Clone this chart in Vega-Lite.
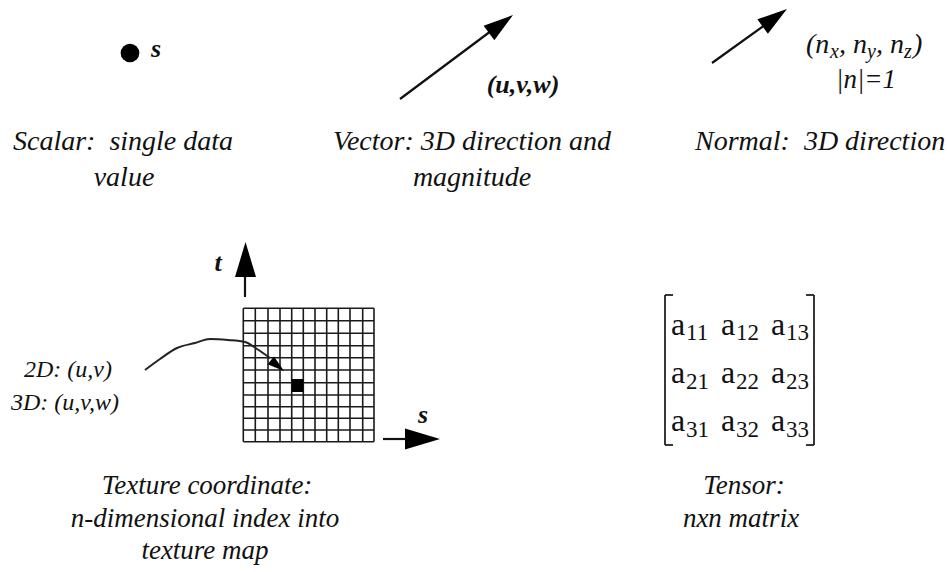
{
  "$schema": "https://vega.github.io/schema/vega-lite/v6.json",
  "width": 947,
  "height": 572,
  "padding": 0,
  "autosize": {"type": "none"},
  "background": "white",
  "config": {"view": {"stroke": null}},
  "datasets": {
    "shafts": [
      {"x": 400, "y": 99, "x2": 495, "y2": 28},
      {"x": 712, "y": 63, "x2": 768, "y2": 22.7},
      {"x": 245, "y": 297, "x2": 245, "y2": 270},
      {"x": 383, "y": 439, "x2": 410, "y2": 439}
    ],
    "brackets": [
      {"x": 665, "y": 295, "x2": 665, "y2": 445},
      {"x": 665, "y": 295, "x2": 673, "y2": 295},
      {"x": 665, "y": 445, "x2": 673, "y2": 445},
      {"x": 814, "y": 295, "x2": 814, "y2": 445},
      {"x": 806, "y": 295, "x2": 814, "y2": 295},
      {"x": 806, "y": 445, "x2": 814, "y2": 445}
    ],
    "grid": [
      {"x": 243.3, "y": 308.3, "x2": 243.3, "y2": 441.7},
      {"x": 255.3, "y": 308.3, "x2": 255.3, "y2": 441.7},
      {"x": 268, "y": 308.3, "x2": 268, "y2": 441.7},
      {"x": 280, "y": 308.3, "x2": 280, "y2": 441.7},
      {"x": 291.7, "y": 308.3, "x2": 291.7, "y2": 441.7},
      {"x": 303.3, "y": 308.3, "x2": 303.3, "y2": 441.7},
      {"x": 315, "y": 308.3, "x2": 315, "y2": 441.7},
      {"x": 326.7, "y": 308.3, "x2": 326.7, "y2": 441.7},
      {"x": 338.3, "y": 308.3, "x2": 338.3, "y2": 441.7},
      {"x": 350, "y": 308.3, "x2": 350, "y2": 441.7},
      {"x": 362.7, "y": 308.3, "x2": 362.7, "y2": 441.7},
      {"x": 374, "y": 308.3, "x2": 374, "y2": 441.7},
      {"x": 243.3, "y": 308.3, "x2": 374, "y2": 308.3},
      {"x": 243.3, "y": 320.7, "x2": 374, "y2": 320.7},
      {"x": 243.3, "y": 333.3, "x2": 374, "y2": 333.3},
      {"x": 243.3, "y": 345.7, "x2": 374, "y2": 345.7},
      {"x": 243.3, "y": 357.7, "x2": 374, "y2": 357.7},
      {"x": 243.3, "y": 370, "x2": 374, "y2": 370},
      {"x": 243.3, "y": 382.7, "x2": 374, "y2": 382.7},
      {"x": 243.3, "y": 395, "x2": 374, "y2": 395},
      {"x": 243.3, "y": 406.7, "x2": 374, "y2": 406.7},
      {"x": 243.3, "y": 418.3, "x2": 374, "y2": 418.3},
      {"x": 243.3, "y": 430, "x2": 374, "y2": 430},
      {"x": 243.3, "y": 441.7, "x2": 374, "y2": 441.7}
    ],
    "cell": [{"x": 291.7, "y": 379, "x2": 303.3, "y2": 392}],
    "curve": [
      {"order": 1, "x": 145, "y": 370},
      {"order": 2, "x": 160, "y": 359},
      {"order": 3, "x": 177, "y": 348},
      {"order": 4, "x": 195, "y": 343},
      {"order": 5, "x": 210, "y": 339},
      {"order": 6, "x": 228, "y": 340},
      {"order": 7, "x": 245, "y": 342},
      {"order": 8, "x": 257, "y": 349},
      {"order": 9, "x": 270, "y": 358}
    ],
    "dot": [{"x": 130, "y": 53}],
    "bigHeads": [
      {"x": 501, "y": 24, "angle": 53.3},
      {"x": 774.8, "y": 17.8, "angle": 54.2}
    ],
    "axisHeads": [
      {"x": 245.5, "y": 259.5, "angle": 0},
      {"x": 422.5, "y": 439, "angle": 90}
    ],
    "smallHeads": [{"x": 277.4, "y": 365.7, "angle": 128.9}],
    "captions": [
      {"x": 123, "y": 142, "label": "Scalar:\u00a0 single data"},
      {"x": 124, "y": 178, "label": "value"},
      {"x": 472, "y": 142, "label": "Vector: 3D direction and"},
      {"x": 472, "y": 178, "label": "magnitude"}
    ],
    "captionsLeft": [
      {"x": 695, "y": 142, "label": "Normal:\u00a0 3D direction"}
    ],
    "bottomCaptions": [
      {"x": 207, "y": 486, "label": "Texture coordinate:"},
      {"x": 205, "y": 519, "label": "n-dimensional index into"},
      {"x": 205, "y": 551, "label": "texture map"},
      {"x": 744, "y": 486, "label": "Tensor:"},
      {"x": 741, "y": 519, "label": "nxn matrix"}
    ],
    "coordLabels": [
      {"x": 68, "y": 370, "label": "2D: (u,v)"},
      {"x": 65, "y": 403, "label": "3D: (u,v,w)"}
    ],
    "boldLabels": [
      {"x": 156, "y": 49, "label": "s"},
      {"x": 523, "y": 85, "label": "(u,v,w)"},
      {"x": 218, "y": 263, "label": "t"},
      {"x": 423, "y": 415, "label": "s"}
    ],
    "normalMain": [
      {"x": 806, "y": 45, "label": "(n"},
      {"x": 839, "y": 45, "label": ", n"},
      {"x": 876, "y": 45, "label": ", n"},
      {"x": 913, "y": 45, "label": ")"}
    ],
    "normalSub": [
      {"x": 830, "y": 52, "label": "x"},
      {"x": 867, "y": 52, "label": "y"},
      {"x": 904, "y": 52, "label": "z"}
    ],
    "unitLabel": [{"x": 866, "y": 80, "label": "|n|=1"}],
    "matrixA": [
      {"x": 671, "y": 325, "label": "a"},
      {"x": 721, "y": 325, "label": "a"},
      {"x": 771, "y": 325, "label": "a"},
      {"x": 671, "y": 373, "label": "a"},
      {"x": 721, "y": 373, "label": "a"},
      {"x": 771, "y": 373, "label": "a"},
      {"x": 671, "y": 421, "label": "a"},
      {"x": 721, "y": 421, "label": "a"},
      {"x": 771, "y": 421, "label": "a"}
    ],
    "matrixSub": [
      {"x": 686, "y": 333, "label": "11"},
      {"x": 736, "y": 333, "label": "12"},
      {"x": 786, "y": 333, "label": "13"},
      {"x": 686, "y": 382, "label": "21"},
      {"x": 736, "y": 382, "label": "22"},
      {"x": 786, "y": 382, "label": "23"},
      {"x": 686, "y": 430, "label": "31"},
      {"x": 736, "y": 430, "label": "32"},
      {"x": 786, "y": 430, "label": "33"}
    ]
  },
  "encoding": {
    "x": {"field": "x", "type": "quantitative", "axis": null, "scale": {"domain": [0, 947], "nice": false, "zero": false}},
    "y": {"field": "y", "type": "quantitative", "axis": null, "scale": {"domain": [0, 572], "reverse": true, "nice": false, "zero": false}}
  },
  "layer": [
    {
      "data": {"name": "grid"},
      "mark": {"type": "rule", "stroke": "#1a1a1a", "strokeWidth": 1.6},
      "encoding": {"x2": {"field": "x2"}, "y2": {"field": "y2"}}
    },
    {
      "data": {"name": "cell"},
      "mark": {"type": "rect", "fill": "#000000"},
      "encoding": {"x2": {"field": "x2"}, "y2": {"field": "y2"}}
    },
    {
      "data": {"name": "shafts"},
      "mark": {"type": "rule", "stroke": "#111111", "strokeWidth": 2.2},
      "encoding": {"x2": {"field": "x2"}, "y2": {"field": "y2"}}
    },
    {
      "data": {"name": "brackets"},
      "mark": {"type": "rule", "stroke": "#222222", "strokeWidth": 1.8},
      "encoding": {"x2": {"field": "x2"}, "y2": {"field": "y2"}}
    },
    {
      "data": {"name": "curve"},
      "mark": {"type": "line", "stroke": "#222222", "strokeWidth": 2, "interpolate": "monotone"},
      "encoding": {"order": {"field": "order", "type": "quantitative"}}
    },
    {
      "data": {"name": "dot"},
      "mark": {"type": "point", "shape": "circle", "filled": true, "fill": "#000000", "size": 350, "opacity": 1}
    },
    {
      "data": {"name": "bigHeads"},
      "mark": {"type": "point", "shape": "M0,-1L0.6,1L-0.6,1Z", "filled": true, "fill": "#000000", "size": 900, "opacity": 1},
      "encoding": {"angle": {"field": "angle", "type": "quantitative", "scale": null}}
    },
    {
      "data": {"name": "axisHeads"},
      "mark": {"type": "point", "shape": "M0,-1L0.6,1L-0.6,1Z", "filled": true, "fill": "#000000", "size": 1225, "opacity": 1},
      "encoding": {"angle": {"field": "angle", "type": "quantitative", "scale": null}}
    },
    {
      "data": {"name": "smallHeads"},
      "mark": {"type": "point", "shape": "M0,-1L0.6,1L-0.6,1Z", "filled": true, "fill": "#000000", "size": 289, "opacity": 1},
      "encoding": {"angle": {"field": "angle", "type": "quantitative", "scale": null}}
    },
    {
      "data": {"name": "captions"},
      "mark": {"type": "text", "font": "Liberation Serif", "fontStyle": "italic", "fontSize": 28, "align": "center", "baseline": "middle", "color": "#111111"},
      "encoding": {"text": {"field": "label"}}
    },
    {
      "data": {"name": "captionsLeft"},
      "mark": {"type": "text", "font": "Liberation Serif", "fontStyle": "italic", "fontSize": 28, "align": "left", "baseline": "middle", "color": "#111111"},
      "encoding": {"text": {"field": "label"}}
    },
    {
      "data": {"name": "bottomCaptions"},
      "mark": {"type": "text", "font": "Liberation Serif", "fontStyle": "italic", "fontSize": 27, "align": "center", "baseline": "middle", "color": "#111111"},
      "encoding": {"text": {"field": "label"}}
    },
    {
      "data": {"name": "coordLabels"},
      "mark": {"type": "text", "font": "Liberation Serif", "fontStyle": "italic", "fontSize": 24, "align": "center", "baseline": "middle", "color": "#111111"},
      "encoding": {"text": {"field": "label"}}
    },
    {
      "data": {"name": "boldLabels"},
      "mark": {"type": "text", "font": "Liberation Serif", "fontStyle": "italic", "fontWeight": "bold", "fontSize": 26, "align": "center", "baseline": "middle", "color": "#111111"},
      "encoding": {"text": {"field": "label"}}
    },
    {
      "data": {"name": "normalMain"},
      "mark": {"type": "text", "font": "Liberation Serif", "fontStyle": "italic", "fontSize": 28, "align": "left", "baseline": "middle", "color": "#111111"},
      "encoding": {"text": {"field": "label"}}
    },
    {
      "data": {"name": "normalSub"},
      "mark": {"type": "text", "font": "Liberation Serif", "fontStyle": "italic", "fontSize": 20, "align": "left", "baseline": "middle", "color": "#111111"},
      "encoding": {"text": {"field": "label"}}
    },
    {
      "data": {"name": "unitLabel"},
      "mark": {"type": "text", "font": "Liberation Serif", "fontStyle": "italic", "fontSize": 27, "align": "center", "baseline": "middle", "color": "#111111"},
      "encoding": {"text": {"field": "label"}}
    },
    {
      "data": {"name": "matrixA"},
      "mark": {"type": "text", "font": "Liberation Serif", "fontSize": 32, "align": "left", "baseline": "middle", "color": "#111111"},
      "encoding": {"text": {"field": "label"}}
    },
    {
      "data": {"name": "matrixSub"},
      "mark": {"type": "text", "font": "Liberation Serif", "fontSize": 23, "align": "left", "baseline": "middle", "color": "#111111"},
      "encoding": {"text": {"field": "label"}}
    }
  ]
}
